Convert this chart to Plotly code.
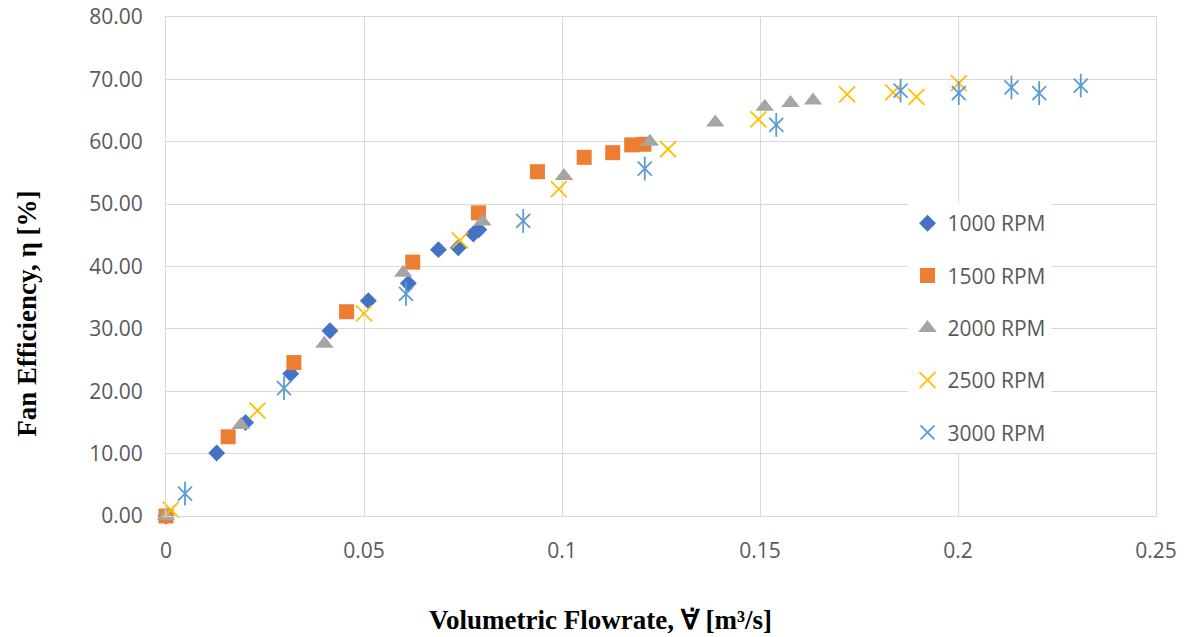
import plotly.graph_objects as go

series_names = ["1000 RPM", "1500 RPM", "2000 RPM", "2500 RPM", "3000 RPM"]

flow_1000 = [0.0, 0.0128, 0.0201, 0.0315, 0.0414, 0.0511, 0.0612, 0.0688, 0.0738, 0.0776, 0.0790]
eff_1000 = [0.0, 10.1, 15.0, 22.8, 29.7, 34.5, 37.3, 42.7, 43.0, 45.2, 45.9]

flow_1500 = [0.0, 0.0157, 0.0323, 0.0456, 0.0623, 0.0789, 0.0938, 0.1056, 0.1128, 0.1176, 0.1207]
eff_1500 = [0.0, 12.7, 24.6, 32.75, 40.7, 48.6, 55.2, 57.5, 58.25, 59.5, 59.6]

flow_2000 = [0.0, 0.0189, 0.0400, 0.0599, 0.0799, 0.1005, 0.1222, 0.1387, 0.1512, 0.1577, 0.1634]
eff_2000 = [0.0, 14.6, 27.6, 39.0, 47.2, 54.5, 60.0, 63.1, 65.6, 66.2, 66.6]

flow_2500 = [0.0012, 0.0231, 0.0500, 0.0742, 0.0992, 0.1268, 0.1496, 0.1720, 0.1836, 0.1895, 0.2002]
eff_2500 = [1.0, 16.9, 32.5, 44.2, 52.4, 58.8, 63.6, 67.6, 67.9, 67.2, 69.4]

flow_3000 = [0.0048, 0.0298, 0.0606, 0.0902, 0.1209, 0.1541, 0.1855, 0.2002, 0.2135, 0.2205, 0.2310]
eff_3000 = [3.6, 20.5, 35.6, 47.3, 55.7, 62.7, 68.2, 67.8, 68.7, 67.8, 69.0]

colors = ["#4472C4", "#ED7D31", "#A5A5A5", "#FFC000", "#5B9BD5"]

x_ticks = [0, 0.05, 0.1, 0.15, 0.2, 0.25]
y_ticks = [0, 10, 20, 30, 40, 50, 60, 70, 80]

x_title = "<b>Volumetric Flowrate, \u2200\u0307 [m\u00b3/s]</b>"
y_title = "<b>Fan Efficiency, \u03b7 [%]</b>"

fig = go.Figure()

fig.add_trace(go.Scatter(x=flow_1000, y=eff_1000, mode="markers", name=series_names[0],
                         legendgroup="g1", cliponaxis=False,
                         marker=dict(symbol="diamond", size=13, color=colors[0])))
fig.add_trace(go.Scatter(x=flow_1500, y=eff_1500, mode="markers", name=series_names[1],
                         legendgroup="g2", cliponaxis=False,
                         marker=dict(symbol="square", size=15, color=colors[1])))
fig.add_trace(go.Scatter(x=flow_2000, y=eff_2000, mode="markers", name=series_names[2],
                         legendgroup="g3", cliponaxis=False,
                         marker=dict(symbol="triangle-up", size=16, color=colors[2])))
fig.add_trace(go.Scatter(x=flow_2500, y=eff_2500, mode="markers", name=series_names[3],
                         legendgroup="g4", cliponaxis=False,
                         marker=dict(symbol="x-thin-open", size=16, color=colors[3],
                                     line=dict(width=1.8, color=colors[3]))))
fig.add_trace(go.Scatter(x=flow_3000, y=eff_3000, mode="markers", name=series_names[4],
                         legendgroup="g5", cliponaxis=False,
                         marker=dict(symbol="x-thin-open", size=14, color=colors[4],
                                     line=dict(width=1.8, color=colors[4]))))
fig.add_trace(go.Scatter(x=flow_3000, y=eff_3000, mode="markers", name=series_names[4],
                         legendgroup="g5", showlegend=False, cliponaxis=False,
                         marker=dict(symbol="line-ns-open", size=17, color=colors[4],
                                     line=dict(width=1.8, color=colors[4]))))

title_font = dict(family="Liberation Serif, Times New Roman, serif", size=27, color="black")

fig.update_layout(
    width=1184, height=637,
    margin=dict(l=166, r=28, t=17, b=121),
    paper_bgcolor="white", plot_bgcolor="white",
    font=dict(family="Open Sans, sans-serif", color="#595959", size=21),
    legend=dict(x=0.749, y=0.627, xanchor="left", yanchor="top",
                bgcolor="white", font=dict(size=21, color="#595959"),
                tracegroupgap=22, traceorder="grouped"),
    xaxis=dict(range=[0, 0.25], tickvals=x_ticks, showgrid=True, gridcolor="#d9d9d9",
               gridwidth=1, zeroline=False, showline=True, linecolor="#d9d9d9",
               mirror=True, ticks="", automargin=False, ticklabelstandoff=16,
               tickfont=dict(size=21, color="#595959")),
    yaxis=dict(range=[0, 80], tickvals=y_ticks, tickformat=".2f", showgrid=True,
               gridcolor="#d9d9d9", gridwidth=1, zeroline=False, showline=True,
               linecolor="#d9d9d9", mirror=True, ticks="", automargin=False,
               ticklabelstandoff=18, tickfont=dict(size=21, color="#595959")),
    showlegend=True,
    annotations=[
        dict(text=x_title, xref="paper", yref="paper", x=0.439, y=-0.208,
             xanchor="center", yanchor="middle", showarrow=False, font=title_font),
        dict(text=y_title, xref="paper", yref="paper", x=-0.140, y=0.406,
             xanchor="center", yanchor="middle", showarrow=False, textangle=-90,
             font=title_font),
    ],
)

fig.write_html("out.html", config={"displayModeBar": False},
               post_script="document.body.style.margin='0';document.body.style.overflow='hidden';")
